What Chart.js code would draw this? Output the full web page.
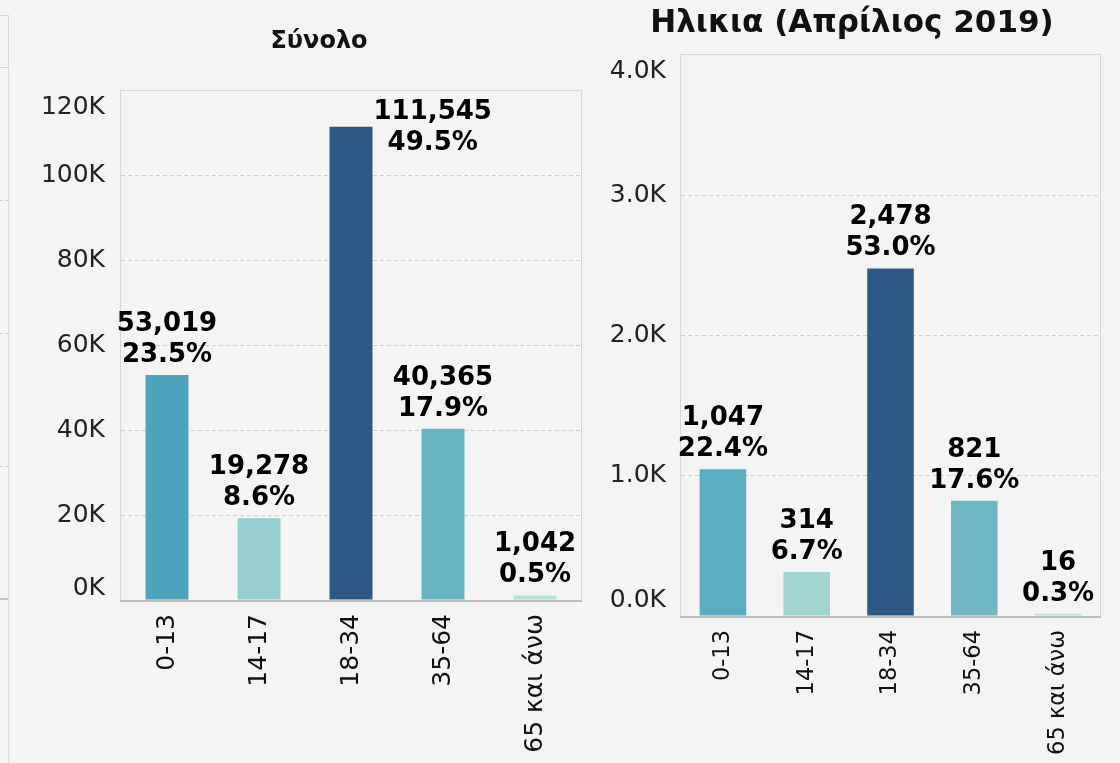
<!DOCTYPE html>
<html>
<head>
<meta charset="utf-8">
<title>Ηλικια (Απρίλιος 2019)</title>
<script src="https://cdn.jsdelivr.net/npm/chart.js@4.4.1/dist/chart.umd.min.js"></script>
<style>
  html, body { margin: 0; padding: 0; background: #f4f4f4; }
  body { width: 1120px; height: 763px; position: relative; overflow: hidden;
         font-family: "DejaVu Sans", Verdana, sans-serif; }
  canvas { position: absolute; top: 0; }
  #totalChart { left: 0; }
  #ageChart { left: 592px; }
  .title { position: absolute; font-weight: bold; color: #111; white-space: nowrap;
           transform: translate(-50%, -50%); line-height: 1; }
  /* edge of the neighbouring panel, cut off by the screenshot */
  .edge { position: absolute; left: 0; width: 8px; border-right: 1px solid #d4d4d4; }
  .edge.box { top: 15px; height: 51px; border-top: 1px solid #d4d4d4; border-bottom: 1px solid #d4d4d4; }
  .edge.rest { top: 66px; height: 697px; border-right-color: #dcdcdc; }
  .edge.dash { height: 0; border-right: 0; border-top: 1px dashed #d0d0d0; }
  .edge.axis { height: 0; border-right: 0; border-top: 2px solid #c4c4c4; top: 598px; }
</style>
</head>
<body>
<div class="edge box"></div>
<div class="edge rest"></div>
<div class="edge dash" style="top:200px"></div>
<div class="edge dash" style="top:333px"></div>
<div class="edge dash" style="top:466px"></div>
<div class="edge axis"></div>

<canvas id="totalChart" width="600" height="763"></canvas>
<canvas id="ageChart" width="528" height="763"></canvas>
<div class="title" style="left:319px; top:40px; font-size:24px;">Σύνολο</div>
<div class="title" style="left:852px; top:21px; font-size:31px;">Ηλικια (Απρίλιος 2019)</div>

<script>
const ageGroups = ['0-13', '14-17', '18-34', '35-64', '65 και άνω'];

const totalValues = [53019, 19278, 111545, 40365, 1042];
const totalPcts = [23.5, 8.6, 49.5, 17.9, 0.5];
const totalTicks = [0, 20000, 40000, 60000, 80000, 100000, 120000];

const aprilValues = [1047, 314, 2478, 821, 16];
const aprilPcts = [22.4, 6.7, 53.0, 17.6, 0.3];
const aprilTicks = [0, 1000, 2000, 3000, 4000];

const totalColors = ['#4ca5bc', '#96cdd0', '#2e5984', '#69b4c4', '#b6e3d7'];
const aprilColors = ['#5badc0', '#a0d5d2', '#2e5984', '#70b8c4', '#b6e3d7'];

Chart.defaults.font.family = '"DejaVu Sans", Verdana, sans-serif';
Chart.defaults.color = '#222';

// light box round the plot area plus the darker base line
const plotFrame = {
  id: 'plotFrame',
  beforeDatasetsDraw(chart) {
    const { ctx, chartArea: a } = chart;
    ctx.save();
    ctx.strokeStyle = '#d6d6d6';
    ctx.lineWidth = 1;
    ctx.strokeRect(a.left - 0.5, a.top - 0.5, a.right - a.left + 1, a.bottom - a.top + 1);
    ctx.strokeStyle = '#bcbcbc';
    ctx.lineWidth = 2;
    ctx.beginPath();
    ctx.moveTo(a.left - 1, a.bottom + 1);
    ctx.lineTo(a.right + 1, a.bottom + 1);
    ctx.stroke();
    ctx.restore();
  }
};

// y tick labels, kept inside the plot height like the original (end labels pulled in)
const yLabels = {
  id: 'yLabels',
  afterDraw(chart, args, opts) {
    const { ctx, chartArea: a } = chart;
    const y = chart.scales.y;
    ctx.save();
    ctx.font = '25px "DejaVu Sans"';
    ctx.fillStyle = '#222';
    ctx.textAlign = 'right';
    ctx.textBaseline = 'middle';
    y.ticks.forEach(t => {
      let py = y.getPixelForValue(t.value);
      py = Math.min(Math.max(py, a.top + opts.inTop), a.bottom - opts.inBottom);
      ctx.fillText(opts.fmt(t.value), a.left - opts.gap, py);
    });
    ctx.restore();
  }
};

// two-line value / share label over each bar
const barLabels = {
  id: 'barLabels',
  afterDatasetsDraw(chart, args, opts) {
    const { ctx, chartArea: area } = chart;
    const values = chart.data.datasets[0].data;
    ctx.save();
    ctx.font = 'bold 26px "DejaVu Sans"';
    ctx.fillStyle = '#000';
    ctx.textAlign = 'center';
    ctx.textBaseline = 'middle';
    chart.getDatasetMeta(0).data.forEach((bar, i) => {
      const lines = [values[i].toLocaleString('en-US'), opts.pcts[i].toFixed(1) + '%'];
      let x = bar.x;
      let y1 = bar.y - 51;
      let y2 = bar.y - 20;
      if (y1 - 16 < area.top) {
        // no room above: put it beside the bar
        const w = Math.max(...lines.map(t => ctx.measureText(t).width));
        x = bar.x + bar.width / 2 + 1 + w / 2;
        y1 = bar.y - 15;
        y2 = bar.y + 16;
      }
      ctx.fillText(lines[0], x, y1);
      ctx.fillText(lines[1], x, y2);
    });
    ctx.restore();
  }
};

function makeChart(id, cfg) {
  return new Chart(document.getElementById(id), {
    type: 'bar',
    data: {
      labels: ageGroups,
      datasets: [{
        data: cfg.values,
        backgroundColor: cfg.colors,
        borderWidth: 0,
        barPercentage: cfg.barPct,
        categoryPercentage: 1
      }]
    },
    options: {
      responsive: false,
      animation: false,
      layout: { padding: { left: 0, right: cfg.padRight, top: cfg.padTop, bottom: 0 } },
      scales: {
        x: {
          grid: { display: false, drawTicks: false },
          border: { display: false },
          ticks: {
            autoSkip: false,
            minRotation: 90,
            maxRotation: 90,
            padding: cfg.xPad,
            color: '#111',
            font: { size: cfg.xFont }
          },
          afterFit: s => { s.height = cfg.xHeight; }
        },
        y: {
          min: 0,
          max: cfg.max,
          afterBuildTicks: s => { s.ticks = cfg.ticks.map(v => ({ value: v })); },
          grid: {
            // the frame takes care of the first and last line
            color: c => (c.tick && (c.tick.value === 0 || c.tick.value === cfg.max)) ? 'rgba(0,0,0,0)' : '#cfcfcf',
            lineWidth: 1,
            drawTicks: false
          },
          border: { display: false, dash: [4, 3] },
          ticks: { display: false },
          afterFit: s => { s.width = cfg.yWidth; }
        }
      },
      plugins: {
        legend: { display: false },
        tooltip: { enabled: false },
        barLabels: { pcts: cfg.pcts },
        yLabels: { fmt: cfg.fmt, gap: cfg.yGap, inTop: cfg.inTop, inBottom: cfg.inBottom }
      }
    },
    plugins: [plotFrame, barLabels, yLabels]
  });
}

makeChart('totalChart', {
  values: totalValues,
  pcts: totalPcts,
  colors: totalColors,
  ticks: totalTicks,
  max: 120000,
  barPct: 0.467,
  padTop: 91,
  padRight: 19,
  yWidth: 121,
  yGap: 16,
  inTop: 16,
  inBottom: 12,
  xHeight: 163,
  xPad: 14,
  xFont: 25,
  fmt: v => (v / 1000) + 'K'
});

makeChart('ageChart', {
  values: aprilValues,
  pcts: aprilPcts,
  colors: aprilColors,
  ticks: aprilTicks,
  max: 4000,
  barPct: 0.556,
  padTop: 55,
  padRight: 20,
  yWidth: 89,
  yGap: 15,
  inTop: 16,
  inBottom: 16,
  xHeight: 147,
  xPad: 14,
  xFont: 22.5,
  fmt: v => (v / 1000).toFixed(1) + 'K'
});
</script>
</body>
</html>
